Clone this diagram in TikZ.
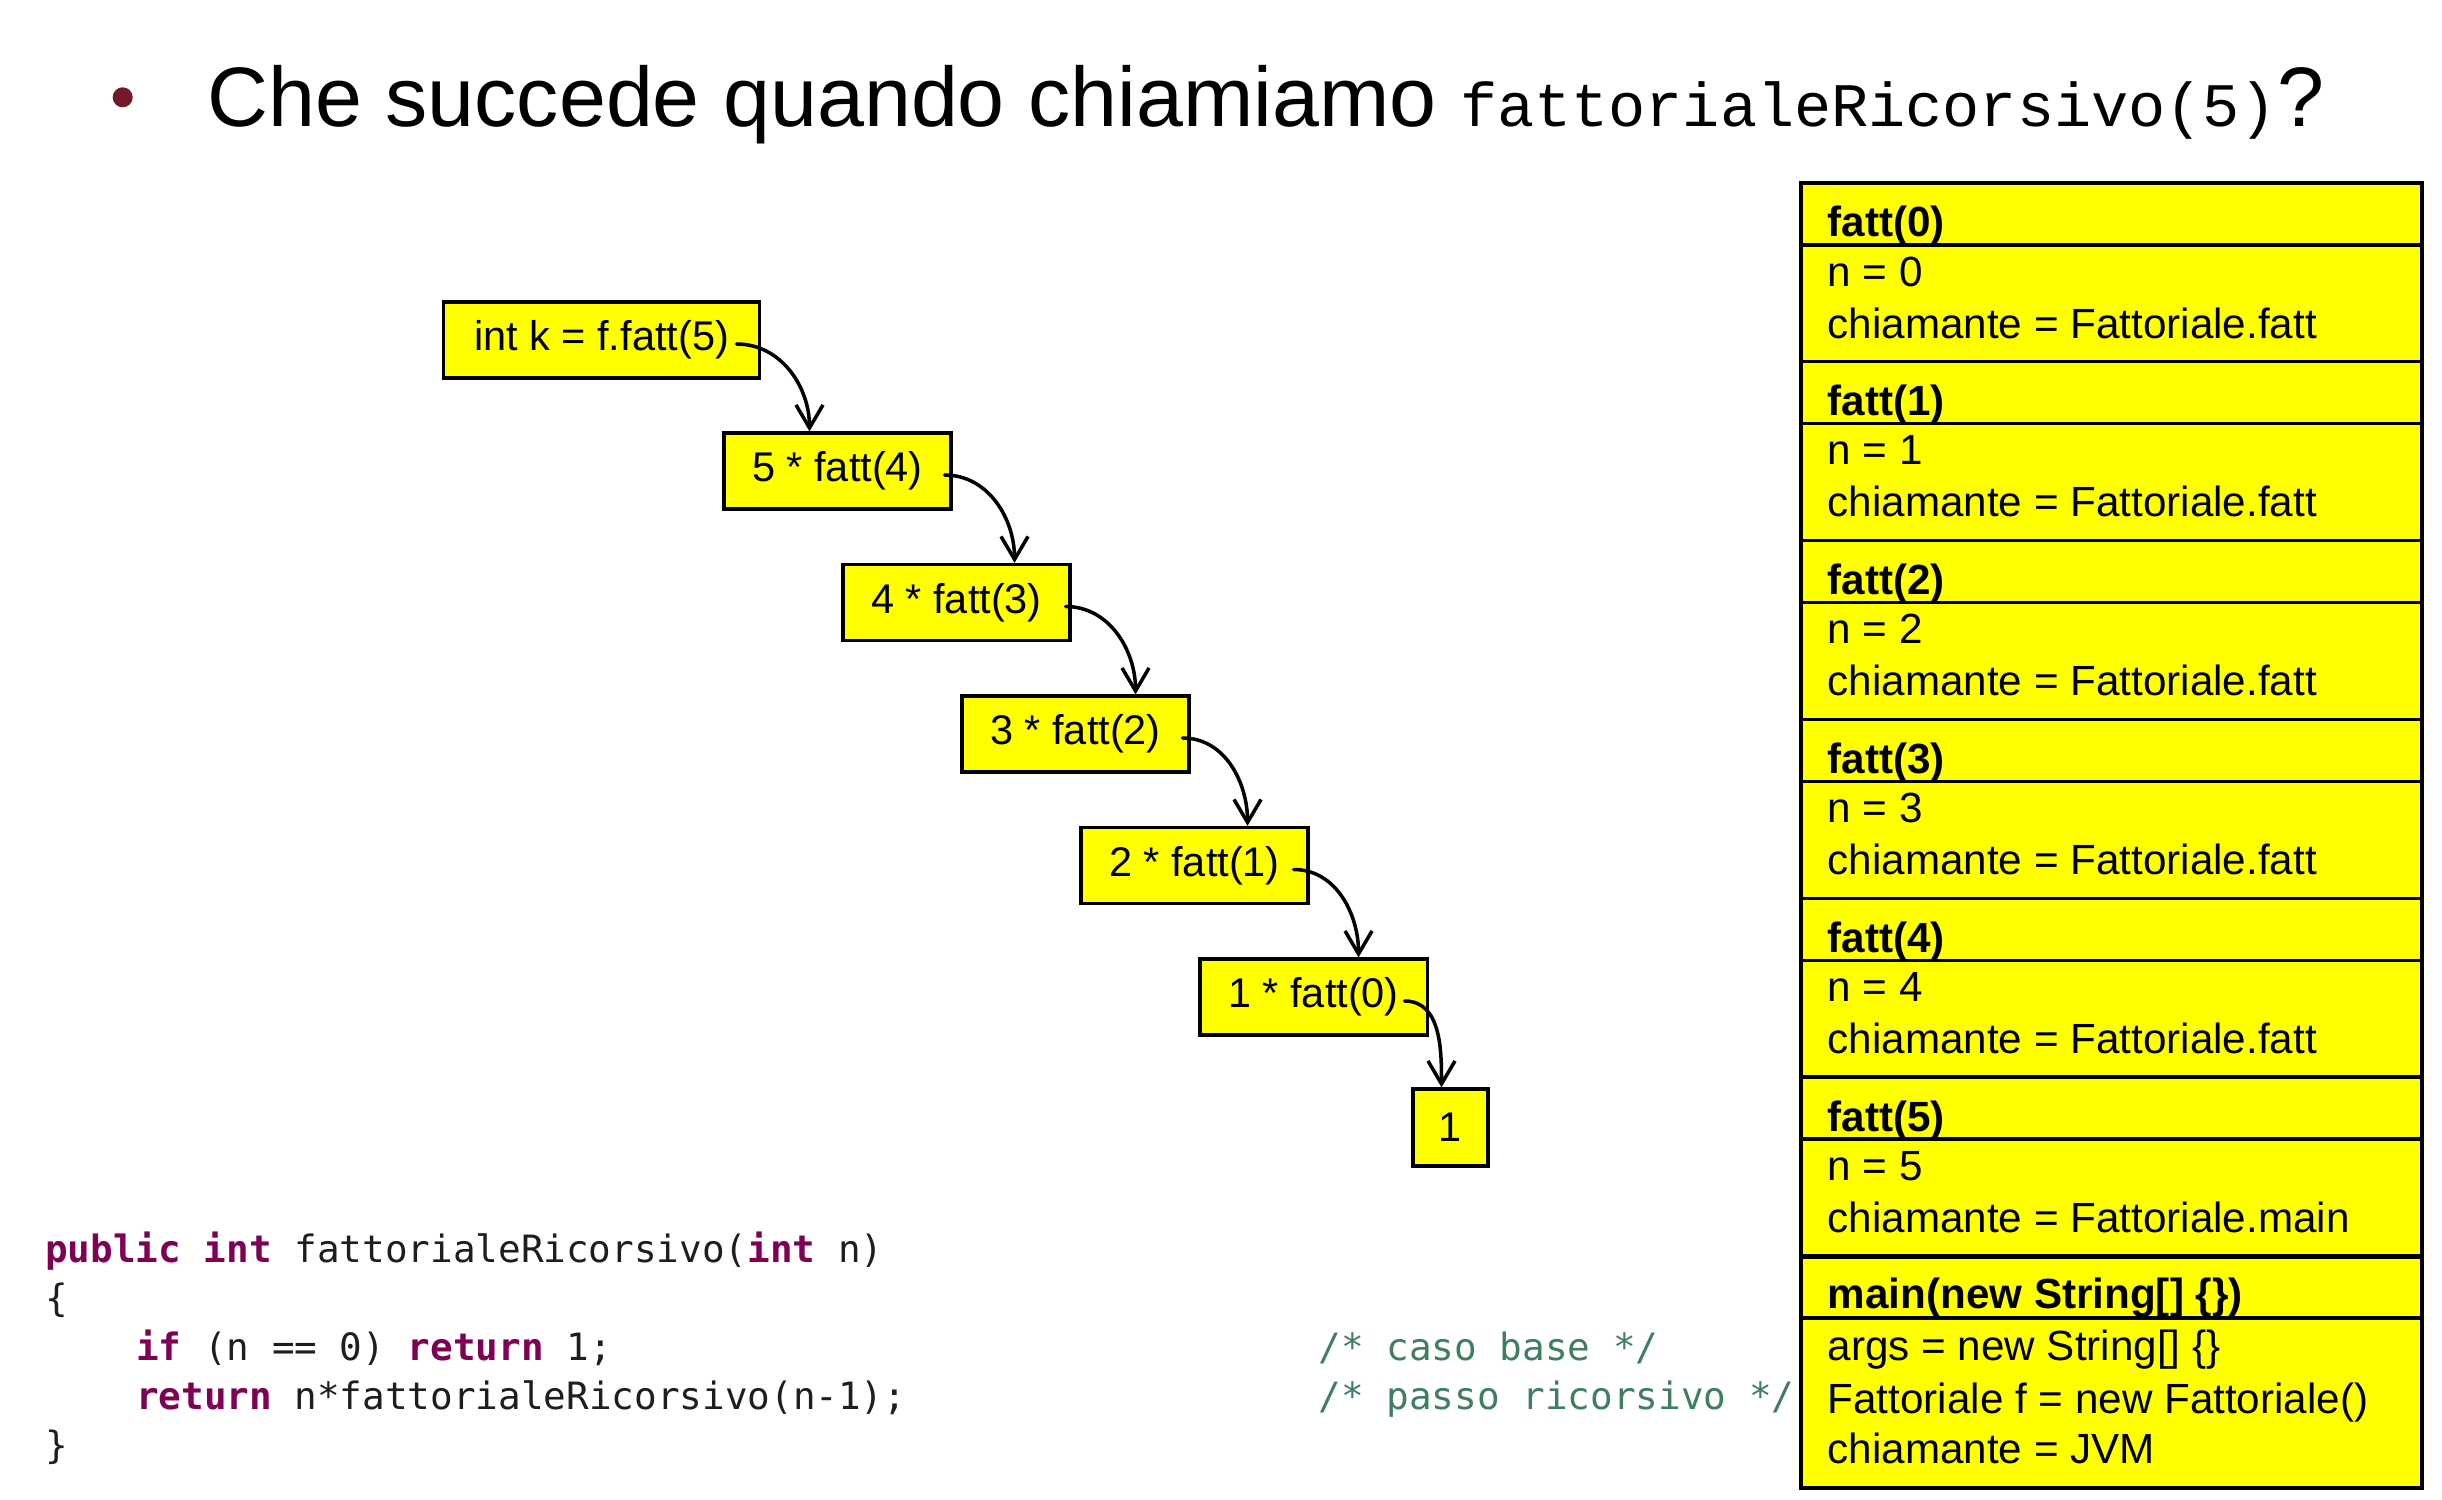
\documentclass[tikz,border=0pt]{standalone}
\usepackage{fontspec}
\setmainfont{Liberation Sans}
\newfontfamily\titlemono{Liberation Mono}
\newfontfamily\codefont{DejaVu Sans Mono}
\usetikzlibrary{arrows.meta}

\definecolor{stackyellow}{RGB}{255,255,0}
\definecolor{bulletred}{RGB}{112,26,42}
\definecolor{javakw}{RGB}{127,0,85}
\definecolor{javacmt}{RGB}{63,127,95}
\definecolor{codegray}{RGB}{30,30,30}

\newcommand{\kw}[1]{\textcolor{javakw}{\textbf{#1}}}

\tikzset{
  callbox/.style={draw=black, fill=stackyellow, line width=0.9pt, inner sep=0pt,
    minimum width=2.27cm, minimum height=0.76cm, font=\fontsize{11.8}{14}\selectfont},
  callarrow/.style={line width=1pt, line cap=round, -{Straight Barb[length=2.3mm,width=2.7mm]}},
  frame/.style={draw=black, fill=stackyellow, line width=0.9pt},
  frametext/.style={anchor=base west, inner sep=0pt, font=\fontsize{12}{14}\selectfont},
  code/.style={anchor=base west, inner sep=0pt, text=codegray, font=\codefont\fontsize{10.7}{13}\selectfont},
}

\begin{document}
\begin{tikzpicture}[x=0.01cm,y=-0.01cm]
\fill[white] (0,0) rectangle (2442,1500);

% title
\fill[bulletred] (122.7,97.3) circle [radius=0.1cm];
\node[anchor=base west, inner sep=0pt, font=\fontsize{24}{28}\selectfont] (title) at (206.7,126.7)
  {Che succede quando chiamiamo {\titlemono\fontsize{17.6}{20}\selectfont fattorialeRicorsivo(5)}?};

% chain of calls
\node[callbox, minimum width=3.15cm] (caller) at (601.5,340) {int k = f.fatt(5)};
\foreach \k [evaluate={\x=837.5+119*\k; \y=471+131.5*\k; \m=int(4-\k); \p=int(5-\k);}]
    in {0,...,4}{
        \node[callbox] (call\k) at (\x,\y) {\p{} * fatt(\m)};
    }
\node[callbox, minimum width=0.75cm, minimum height=0.77cm] (base) at (1450.5,1127.5) {1};

\foreach \a/\b/\sx/\ex in {caller/call0/0.24/-0.28, call0/call1/0.08/0.58,
    call1/call2/0.06/0.6, call2/call3/0.08/0.53, call3/call4/0.16/0.45, call4/base/0.24/-0.09}{
        \draw[callarrow] ([xshift=-\sx cm,yshift=-0.04cm]\a.east) to[out=0,in=90] ([xshift=\ex cm]\b.north);
    }

% stack of frames
\foreach \k [evaluate={\t=183+178.8*\k;}] in {0,...,5}{
    \filldraw[frame] (1801,\t) rectangle (2422,\t+178.8);
    \draw[line width=0.9pt] (1801,\t+62) -- (2422,\t+62);
    \node[frametext] (hdr\k) at (1827,\t+54) {\textbf{fatt(\k)}};
    \node[frametext] (arg\k) at (1827,\t+103) {n = \k};
    \node[frametext] (chi\k) at (1827,\t+155)
        {chiamante = Fattoriale.\ifnum\k<5 fatt\else main\fi};
}
\filldraw[frame] (1801,1257) rectangle (2422,1488);
\draw[line width=0.9pt] (1801,1318) -- (2422,1318);
\node[frametext] (hdrmain) at (1827,1308) {\textbf{main(new String[] \{\})}};
\node[frametext] (args) at (1827,1360) {args = new String[] \{\}};
\node[frametext] (fobj) at (1827,1413) {Fattoriale f = new Fattoriale()};
\node[frametext] (chimain) at (1827,1463) {chiamante = JVM};

% code
\node[code] (sig) at (44.6,1262) {\kw{public} \kw{int} fattorialeRicorsivo(\kw{int} n)};
\node[code] (open) at (44.6,1311) {\{};
\node[code] (basecase) at (135.4,1360) {\kw{if} (n == 0) \kw{return} 1;};
\node[code] (recstep) at (135.4,1409) {\kw{return} n*fattorialeRicorsivo(n-1);};
\node[code] (close) at (44.6,1458) {\}};
\node[code, text=javacmt] (cmtbase) at (1318,1360) {/* caso base */};
\node[code, text=javacmt] (cmtstep) at (1318,1409) {/* passo ricorsivo */};
\end{tikzpicture}
\end{document}
